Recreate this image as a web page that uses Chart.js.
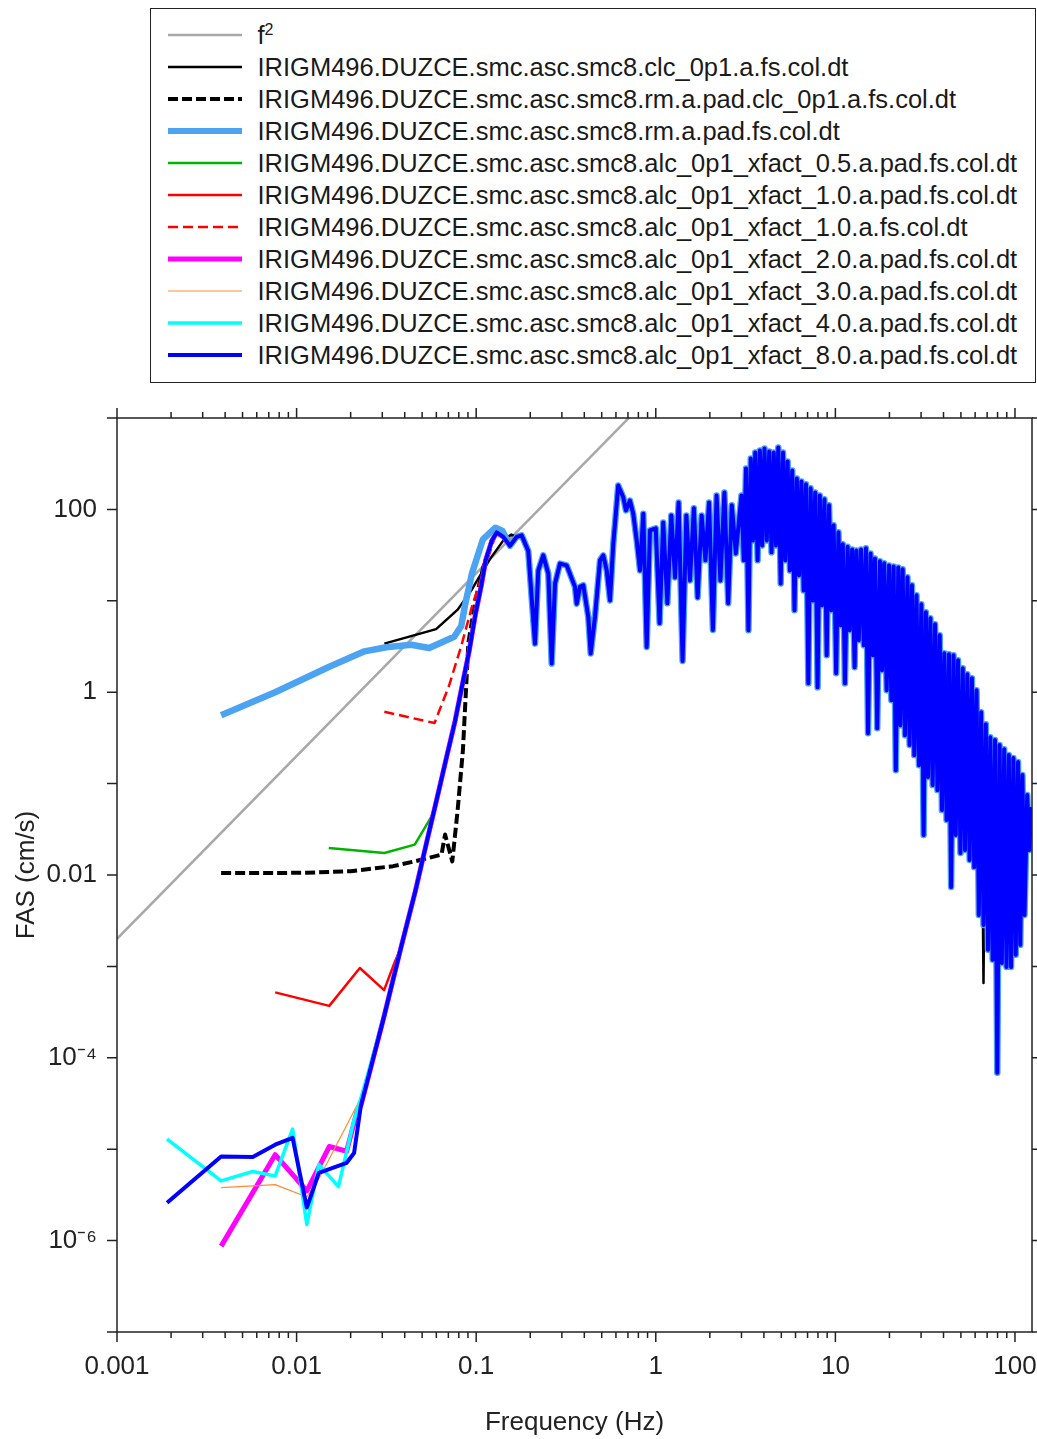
<!DOCTYPE html>
<html>
<head>
<meta charset="utf-8">
<script src="https://cdn.jsdelivr.net/npm/chart.js@4.4.0/dist/chart.umd.min.js"></script>
<style>
    html, body { margin: 0; padding: 0; background: #fff; }
    #wrap { position: relative; width: 1037px; height: 1439px; overflow: hidden; }
    #chart { position: absolute; left: 0; top: 0; }
    #legend {
        position: absolute; left: 150px; top: 8px; width: 886px; height: 375px;
        border: 1.5px solid #222; box-sizing: border-box; background: #fff;
        font-family: "Liberation Sans", Arial, sans-serif; font-size: 25.5px; color: #1a1a1a;
    }
    .row { position: absolute; left: 0; height: 32px; width: 100%; }
    .row svg { position: absolute; left: 16.5px; top: 10px; }
    .row span { position: absolute; left: 106.5px; top: 0; line-height: 32px; white-space: nowrap; }
    .row sup { font-size: 16px; vertical-align: 9px; line-height: 0; }
</style>
</head>
<body>
<div id="wrap">
    <canvas id="chart" width="1037" height="1439"></canvas>
    <div id="legend"></div>
</div>
<script>
// ================================
// DATA
// ================================
const seriesLabels = [
    'f2',
    'IRIGM496.DUZCE.smc.asc.smc8.clc_0p1.a.fs.col.dt',
    'IRIGM496.DUZCE.smc.asc.smc8.rm.a.pad.clc_0p1.a.fs.col.dt',
    'IRIGM496.DUZCE.smc.asc.smc8.rm.a.pad.fs.col.dt',
    'IRIGM496.DUZCE.smc.asc.smc8.alc_0p1_xfact_0.5.a.pad.fs.col.dt',
    'IRIGM496.DUZCE.smc.asc.smc8.alc_0p1_xfact_1.0.a.pad.fs.col.dt',
    'IRIGM496.DUZCE.smc.asc.smc8.alc_0p1_xfact_1.0.a.fs.col.dt',
    'IRIGM496.DUZCE.smc.asc.smc8.alc_0p1_xfact_2.0.a.pad.fs.col.dt',
    'IRIGM496.DUZCE.smc.asc.smc8.alc_0p1_xfact_3.0.a.pad.fs.col.dt',
    'IRIGM496.DUZCE.smc.asc.smc8.alc_0p1_xfact_4.0.a.pad.fs.col.dt',
    'IRIGM496.DUZCE.smc.asc.smc8.alc_0p1_xfact_8.0.a.pad.fs.col.dt'
];

// f^2 reference line
const f2Freq = [0.001, 1];
const f2Amp = [0.002, 2000];

// low-frequency ends, one per record
const blackFreq = [0.0308, 0.0598, 0.0789, 0.0948, 0.119, 0.143, 0.157];
const blackAmp = [3.4, 4.9, 8.0, 13.4, 28.4, 47, 53];
// the one trough where the black record drops below the others
const blackDipFreq = 66.8;
const blackDipAmp = 0.00066;

const blackDashFreq = [0.0038, 0.0076, 0.0114, 0.0152, 0.02, 0.0345, 0.0455, 0.0641, 0.0671, 0.0736, 0.0789, 0.0844, 0.0905, 0.0993, 0.11];
const blackDashAmp = [0.0105, 0.0105, 0.0106, 0.0108, 0.011, 0.0125, 0.0141, 0.0167, 0.0277, 0.0141, 0.052, 0.236, 3.5, 10.3, 24];

const lightBlueFreq = [0.0038, 0.0076, 0.0152, 0.0239, 0.0316, 0.0435, 0.0547, 0.0754, 0.0826, 0.0865, 0.0948, 0.109, 0.128, 0.14];
const lightBlueAmp = [0.56, 1.0, 1.9, 2.8, 3.1, 3.3, 3.05, 4.05, 5.3, 8.8, 20, 47, 63, 58];

const greenFreq = [0.0151, 0.0308, 0.0455, 0.0573];
const greenAmp = [0.0198, 0.0174, 0.0215, 0.046];

const redFreq = [0.0076, 0.0152, 0.0225, 0.0307, 0.0353];
const redAmp = [5.2e-4, 3.7e-4, 9.6e-4, 5.5e-4, 1.13e-3];

const redDashFreq = [0.0308, 0.0586, 0.0704, 0.0826, 0.0948, 0.109, 0.125];
const redDashAmp = [0.61, 0.46, 1.16, 3.2, 8.7, 20, 45];

const magentaFreq = [0.0038, 0.0076, 0.0114, 0.0152, 0.019, 0.0216];
const magentaAmp = [8.7e-7, 8.7e-6, 3.5e-6, 1.07e-5, 9.5e-6, 2.5e-5];

const orangeFreq = [0.0038, 0.0076, 0.0114, 0.0135, 0.0235];
const orangeAmp = [3.8e-6, 4.1e-6, 3.0e-6, 5.0e-6, 4.1e-5];

const cyanFreq = [0.0019, 0.0038, 0.0057, 0.0076, 0.0095, 0.0114, 0.0133, 0.0171, 0.0209, 0.0228];
const cyanAmp = [1.29e-5, 4.5e-6, 5.7e-6, 5.1e-6, 1.66e-5, 1.5e-6, 6.8e-6, 3.9e-6, 2.1e-5, 3.6e-5];

const blueFreq = [0.0019, 0.0038, 0.0057, 0.0076, 0.0095, 0.0114, 0.0133, 0.019, 0.0209];
const blueAmp = [2.6e-6, 8.3e-6, 8.2e-6, 1.12e-5, 1.33e-5, 2.3e-6, 5.5e-6, 7.1e-6, 9.1e-6];

// steep rise shared by the padded alc records
const riseFreq = [0.0228, 0.0305, 0.0381, 0.0457, 0.0533, 0.061, 0.0686, 0.0762, 0.0838, 0.0915, 0.099];
const riseAmp = [3e-5, 2.7e-4, 1.6e-3, 6.5e-3, 0.024, 0.074, 0.2, 0.48, 1.22, 2.85, 7.1];

// 0.1 - 1 Hz, common to all records
const peakFreq = [0.107, 0.113, 0.122, 0.13, 0.1416, 0.1542, 0.168, 0.1792, 0.195, 0.2125, 0.2217, 0.2363, 0.2521, 0.2633,
    0.2747, 0.2928, 0.319, 0.3549, 0.3628, 0.3784, 0.3948, 0.4209, 0.434, 0.4586, 0.489, 0.5101, 0.533, 0.556, 0.58,
    0.618, 0.659, 0.682, 0.718, 0.749, 0.783, 0.817, 0.852, 0.89, 0.928];
const peakAmp = [15, 28, 45, 56, 50, 40, 50, 52, 35, 3.4, 21.5, 31.4, 19.8, 2.06,
    15.4, 25.5, 24.4, 14.2, 9.3, 14.2, 14.8, 6.65, 2.65, 6.65, 27.7, 31.4, 21.5, 10.1, 42.2,
    183, 136, 97.5, 125, 89.8, 45.8, 21.5, 89.8, 3.13, 59];

// 1 - 124 Hz band (alternating crest / trough)
const hfFreq = [1.00, 1.05, 1.10, 1.16, 1.22, 1.28, 1.34, 1.41, 1.48, 1.55, 1.63, 1.71, 1.80, 1.89, 1.98, 2.08, 2.18, 2.29,
    2.41, 2.53, 2.65, 2.79,
    3.00, 3.09, 3.18, 3.28, 3.38, 3.48, 3.58, 3.69, 3.80, 3.91, 4.03, 4.15, 4.28, 4.41, 4.54, 4.67, 4.81, 4.96, 5.11, 5.26,
    5.42, 5.58, 5.75, 5.92, 6.10, 6.28, 6.47, 6.66, 6.86, 7.07, 7.28, 7.50, 7.72, 7.96, 8.19, 8.44, 8.69, 8.95, 9.22, 9.50,
    9.78, 10.1, 10.4, 10.7, 11.0, 11.3, 11.7, 12.0, 12.4, 12.8, 13.1, 13.5, 13.9, 14.4, 14.8, 15.2, 15.7, 16.2, 16.6, 17.1,
    17.7, 18.2, 18.7, 19.3, 19.9, 20.5, 21.1, 21.7, 22.4, 23.0, 23.7, 24.4, 25.2, 25.9, 26.7, 27.5, 28.3, 29.2, 30.1, 31.0,
    31.9, 32.8, 33.8, 34.8, 35.9, 37.0, 38.1, 39.2, 40.4, 41.6, 42.9, 44.1, 45.5, 46.8, 48.2, 49.7, 51.2, 52.7, 54.3, 55.9,
    57.6, 59.3, 61.1, 62.9, 64.8, 66.8, 68.8, 70.8, 72.9, 75.1, 77.4, 79.7, 82.1, 84.5, 87.1, 89.7, 92.4, 95.1, 98.0, 101,
    104, 107, 110, 113, 117, 120, 124];
const hfAmp = [62, 5.7, 72, 9.4, 86, 18, 119, 2.2, 86, 16.7, 103, 10.9, 86, 27.7, 119, 4.8, 142, 16.7,
    153, 9.4, 111, 33,
    142, 27.7, 281, 4.76, 361, 45.8, 420, 27.7, 441, 40.4, 464, 45.8, 430, 33.9, 420, 40.4, 476, 15.5, 420, 27.7,
    335, 21.5, 267, 7.87, 218, 19.0, 202, 13.0, 188, 1.25, 170, 10.1, 153, 1.13, 142, 8.93, 129, 2.54, 111, 7.87,
    66.9, 1.61, 56.1, 5.40, 41.5, 1.25, 39, 4.76, 36.5, 1.88, 35.6, 3.70, 36.5, 3.26, 37.5, 0.356, 33.0, 2.54, 29.1, 0.404,
    27.0, 1.74, 25.7, 1.05, 24.4, 0.818, 23.8, 0.140, 23.2, 0.436, 22.1, 0.339, 18.1, 0.264, 14.8, 0.205, 11.5, 0.159, 9.16, 0.0274,
    7.49, 0.118, 6.44, 0.0963, 5.54, 0.0849, 4.20, 0.0513, 2.67, 0.0399, 2.60, 0.00739, 2.54, 0.0274, 2.24, 0.0174, 1.83, 0.0188, 1.57, 0.0146,
    1.42, 0.0122, 1.05, 0.00365, 0.604, 0.00284, 0.447, 0.00152, 0.322, 0.00118, 0.299, 0.0000686, 0.264, 0.00109, 0.238, 0.000988, 0.205, 0.000988, 0.190, 0.00134,
    0.172, 0.00172, 0.124, 0.00365, 0.0749, 0.0188, 0.0553];

// axis ticks
const xMajorTicks = [0.001, 0.01, 0.1, 1, 10, 100];
const xTickLabels = ['0.001', '0.01', '0.1', '1', '10', '100'];
const minorSteps = [2, 3, 4, 5, 6, 7, 8, 9];
const yLabelTicks = [1e-6, 1e-4, 1e-2, 1, 100];
const yTickLabels = ['10\u207B\u2076', '10\u207B\u2074', '0.01', '1', '100'];
const yDecadeTicks = [1e-7, 1e-6, 1e-5, 1e-4, 1e-3, 1e-2, 1e-1, 1, 10, 100, 1000];

// ================================
// HELPERS
// ================================
function pts(freqs, amps) {
    return freqs.map((f, i) => ({ x: f, y: amps[i] }));
}

function after(list, f0) {
    return list.filter(p => p.x > f0);
}

const risePts = pts(riseFreq, riseAmp);
const tailPts = pts(peakFreq.concat(hfFreq), peakAmp.concat(hfAmp));
const blackTail = after(tailPts, 0.16).map(p => (p.x === blackDipFreq ? { x: p.x, y: blackDipAmp } : p));

// ================================
// SERIES  (z: higher is drawn later / on top)
// ================================
const series = [
    { data: pts(f2Freq, f2Amp), color: '#a8a8a8', width: 2.5, dash: [], z: 0 },
    { data: pts(blackFreq, blackAmp).concat(blackTail), color: '#000000', width: 2.5, dash: [], z: 1 },
    { data: pts(blackDashFreq, blackDashAmp).concat(after(tailPts, 0.111)), color: '#000000', width: 4, dash: [10, 4], z: 2 },
    { data: pts(lightBlueFreq, lightBlueAmp).concat(after(tailPts, 0.145)), color: '#4ca3f2', width: 6.5, dash: [], z: 9 },
    { data: pts(greenFreq, greenAmp).concat(after(risePts, 0.058), tailPts), color: '#00b400', width: 2.5, dash: [], z: 3 },
    { data: pts(redFreq, redAmp).concat(after(risePts, 0.036), tailPts), color: '#ff0000', width: 2.5, dash: [], z: 4 },
    { data: pts(redDashFreq, redDashAmp).concat(after(tailPts, 0.126)), color: '#ff0000', width: 2.5, dash: [10, 5], z: 5 },
    { data: pts(magentaFreq, magentaAmp).concat(after(risePts, 0.022), tailPts), color: '#ff00ff', width: 5, dash: [], z: 6 },
    { data: pts(orangeFreq, orangeAmp).concat(after(risePts, 0.024), tailPts), color: '#ff8c30', width: 1.2, dash: [], z: 7 },
    { data: pts(cyanFreq, cyanAmp).concat(after(risePts, 0.023), tailPts), color: '#00ffff', width: 3.5, dash: [], z: 8 },
    { data: pts(blueFreq, blueAmp).concat(after(risePts, 0.0215), tailPts), color: '#0000ff', width: 4, dash: [], z: 10 }
];

// ================================
// FRAME + TICK MARKS
// ================================
const framePlugin = {
    id: 'frame',
    afterDatasetsDraw(chart) {
        const { ctx, chartArea: a } = chart;
        const x = chart.scales.x;
        const y = chart.scales.y;
        ctx.save();
        ctx.strokeStyle = '#222';
        ctx.lineWidth = 1.5;
        ctx.strokeRect(a.left, a.top, a.right - a.left, a.bottom - a.top);
        ctx.beginPath();
        xMajorTicks.forEach(v => {
            const px = x.getPixelForValue(v);
            ctx.moveTo(px, a.bottom); ctx.lineTo(px, a.bottom + 10);
            ctx.moveTo(px, a.top); ctx.lineTo(px, a.top - 10);
            minorSteps.forEach(m => {
                if (m * v > x.max) return;
                const pm = x.getPixelForValue(m * v);
                ctx.moveTo(pm, a.bottom); ctx.lineTo(pm, a.bottom + 6);
                ctx.moveTo(pm, a.top); ctx.lineTo(pm, a.top - 6);
            });
        });
        yDecadeTicks.forEach(v => {
            const py = y.getPixelForValue(v);
            ctx.moveTo(a.left - 10, py); ctx.lineTo(a.left, py);
            ctx.moveTo(a.right, py); ctx.lineTo(a.right + 9, py);
        });
        ctx.stroke();
        ctx.restore();
    }
};

// ================================
// CHART
// ================================
const FONT = '"Liberation Sans", Arial, sans-serif';

new Chart(document.getElementById('chart'), {
    type: 'line',
    data: {
        datasets: series.map((s, i) => ({
            label: seriesLabels[i],
            data: s.data,
            borderColor: s.color,
            borderWidth: s.width,
            borderDash: s.dash,
            fill: false,
            order: 10 - s.z
        }))
    },
    options: {
        responsive: false,
        animation: false,
        layout: { padding: { top: 418, right: 5, left: 0, bottom: 0 } },
        elements: {
            point: { radius: 0 },
            line: { tension: 0, borderJoinStyle: 'round', borderCapStyle: 'butt' }
        },
        plugins: { legend: { display: false }, tooltip: { enabled: false } },
        scales: {
            x: {
                type: 'logarithmic',
                position: 'bottom',
                min: 0.001,
                max: 124.4,
                grid: { display: false, drawTicks: false },
                border: { display: false },
                afterBuildTicks: s => { s.ticks = xMajorTicks.map(v => ({ value: v })); },
                afterFit: s => { s.height = 107; s.paddingLeft = 0; s.paddingRight = 0; },
                ticks: {
                    autoSkip: false,
                    maxRotation: 0,
                    padding: 19,
                    color: '#222',
                    font: { family: FONT, size: 26 },
                    callback: (v, i) => xTickLabels[i]
                },
                title: {
                    display: true,
                    text: 'Frequency (Hz)',
                    color: '#222',
                    font: { family: FONT, size: 26 },
                    padding: { top: 0, bottom: 1 }
                }
            },
            y: {
                type: 'logarithmic',
                position: 'left',
                min: 1e-7,
                max: 1000,
                grid: { display: false, drawTicks: false },
                border: { display: false },
                afterBuildTicks: s => { s.ticks = yLabelTicks.map(v => ({ value: v })); },
                afterFit: s => { s.width = 117; s.paddingTop = 0; s.paddingBottom = 0; },
                ticks: {
                    autoSkip: false,
                    padding: 20,
                    color: '#222',
                    font: { family: FONT, size: 26 },
                    callback: (v, i) => yTickLabels[i]
                },
                title: {
                    display: true,
                    text: 'FAS (cm/s)',
                    color: '#222',
                    font: { family: FONT, size: 26 },
                    padding: { top: 11, bottom: 0 }
                }
            }
        }
    },
    plugins: [framePlugin]
});

// ================================
// LEGEND (html, built from the same series)
// ================================
const legendEl = document.getElementById('legend');
series.forEach((s, i) => {
    const row = document.createElement('div');
    row.className = 'row';
    row.style.top = (9.5 + 32 * i) + 'px';
    const dash = s.dash.length ? `stroke-dasharray="${s.dash.join(',')}"` : '';
    const w = s.width < 2 ? 1.2 : Math.min(s.width, 6);
    row.innerHTML =
        `<svg width="74" height="12"><line x1="0" y1="6" x2="74" y2="6" stroke="${s.color}" stroke-width="${w}" ${dash}/></svg>` +
        `<span>${i === 0 ? 'f<sup>2</sup>' : seriesLabels[i]}</span>`;
    legendEl.appendChild(row);
});
</script>
</body>
</html>
